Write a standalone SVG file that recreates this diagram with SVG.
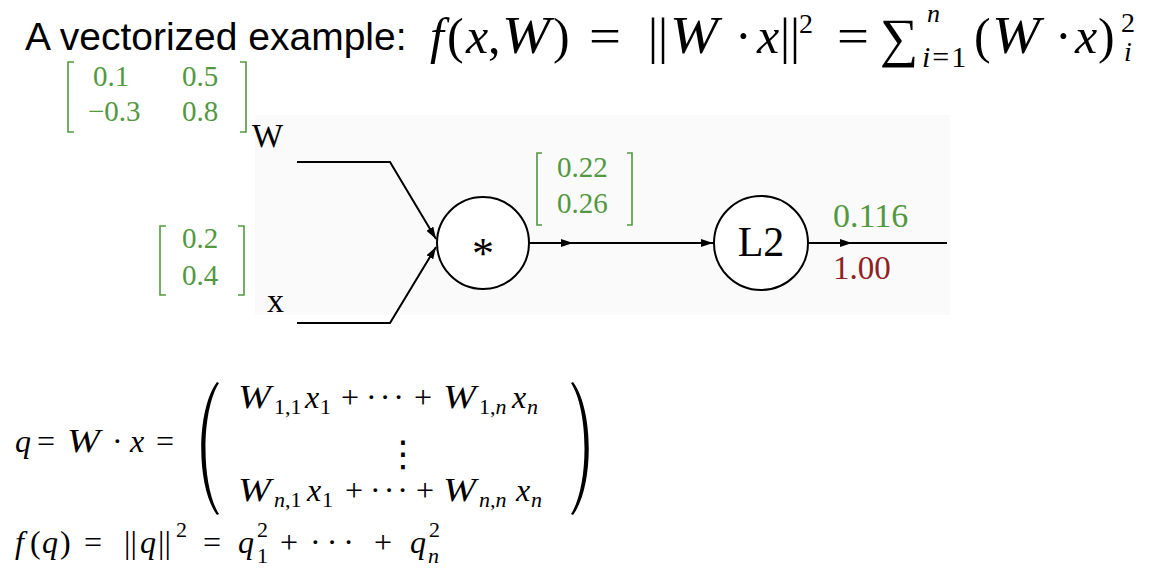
<svg xmlns="http://www.w3.org/2000/svg" width="1160" height="570" viewBox="0 0 1160 570">
<style>
.title{font-family:"Liberation Sans",Arial,sans-serif;font-size:39px;fill:#000}
.m{font-family:"Liberation Serif","DejaVu Serif",serif;fill:#000}
.mi{font-style:italic}
.big{font-size:50px}
.sm{font-size:32px}
.ss{font-size:22px}
.sp{font-size:28px}
.wt{font-size:52px}
.wb{font-size:34px}
.g{fill:#52983f;font-family:"Liberation Serif","DejaVu Serif",serif}
.r{fill:#8e2222;font-family:"Liberation Serif","DejaVu Serif",serif}
.br{fill:none;stroke:#52983f;stroke-width:1.6}
.edge{fill:none;stroke:#000;stroke-width:2}
.node{fill:#fff;stroke:#000;stroke-width:2}
.lbl{font-family:"Liberation Serif","DejaVu Serif",serif;fill:#000}
.vd{font-family:"DejaVu Sans","Noto Sans",sans-serif;font-size:36px;fill:#000}
</style>
<defs>
<marker id="ah" markerWidth="13" markerHeight="9" refX="12" refY="4" orient="auto" markerUnits="userSpaceOnUse">
<path d="M0,0 L12,4 L0,8 Z" fill="#000"/>
</marker>
</defs>
<rect x="0" y="0" width="1160" height="570" fill="#fff"/>
<rect x="255" y="115" width="695" height="200" fill="#fafafa"/>

<g id="title">
<text class="title" x="25" y="50">A vectorized example:</text>
<g class="m big">
<text class="mi" x="430" y="53">f</text>
<text x="447" y="53">(</text>
<text class="mi" x="466" y="53">x</text>
<text x="488" y="53">,</text>
<text class="mi wt" x="502" y="53" textLength="48" lengthAdjust="spacingAndGlyphs">W</text>
<text x="553" y="53">)</text>
<text x="589" y="53" textLength="32" lengthAdjust="spacingAndGlyphs">=</text>
<text x="648" y="53">||</text>
<text class="mi wt" x="670" y="53" textLength="48" lengthAdjust="spacingAndGlyphs">W</text>
<text x="735" y="53">·</text>
<text class="mi" x="757" y="53">x</text>
<text x="780" y="53">||</text>
<text class="sp" x="799" y="33">2</text>
<text x="837" y="53" textLength="32" lengthAdjust="spacingAndGlyphs">=</text>
<text x="880" y="56" font-size="54">∑</text>
<text class="mi" x="927" y="22" font-size="26">n</text>
<text x="922" y="67" font-size="30"><tspan class="mi">i</tspan><tspan dx="2">=</tspan><tspan dx="2">1</tspan></text>
<text x="974" y="53">(</text>
<text class="mi wt" x="992" y="53" textLength="48" lengthAdjust="spacingAndGlyphs">W</text>
<text x="1055" y="53">·</text>
<text class="mi" x="1075" y="53">x</text>
<text x="1098" y="53">)</text>
<text class="sp" x="1121" y="32">2</text>
<text class="sp mi" x="1124" y="61">i</text>
</g>
</g>

<g id="W-input">
<path class="br" d="M74,62 H68 V132 H74 M240,62 H246 V132 H240"/>
<g class="g" font-size="29">
<text x="93" y="86">0.1</text>
<text x="182" y="86">0.5</text>
<text x="88" y="121">−0.3</text>
<text x="182" y="121">0.8</text>
</g>
<text class="lbl" x="252" y="147" font-size="33">W</text>
</g>

<g id="x-input">
<path class="br" d="M166,226 H160 V295 H166 M238,226 H244 V295 H238"/>
<g class="g" font-size="29">
<text x="182" y="248">0.2</text>
<text x="182" y="285">0.4</text>
</g>
<text class="lbl" x="267" y="312" font-size="34">x</text>
</g>

<g id="connectors">
<path class="edge" d="M297,162 H390 L436,239" marker-end="url(#ah)"/>
<path class="edge" d="M297,323 H390 L436,247" marker-end="url(#ah)"/>
<path class="edge" d="M529,243 H713" marker-end="url(#ah)"/>
<path class="edge" d="M529,243 H573" marker-end="url(#ah)"/>
<path class="edge" d="M808,243 H947"/>
<path class="edge" d="M808,243 H852" marker-end="url(#ah)"/>
</g>

<g id="mul">
<circle class="node" cx="483" cy="243" r="46"/>
<text class="lbl" x="483" y="268" font-size="44" text-anchor="middle">*</text>
</g>

<g id="q-value">
<path class="br" d="M542,153 H537 V225 H542 M627,153 H632 V225 H627"/>
<g class="g" font-size="29">
<text x="557" y="177">0.22</text>
<text x="557" y="213">0.26</text>
</g>
</g>

<g id="L2">
<circle class="node" cx="761" cy="243" r="47"/>
<text class="lbl" x="761" y="256" font-size="42" text-anchor="middle">L2</text>
</g>

<g id="output">
<text class="g" x="833" y="227" font-size="34">0.116</text>
<text class="r" x="833" y="279" font-size="33">1.00</text>
</g>

<g id="q-def" class="m sm">
<text class="mi" x="15" y="452">q</text>
<text x="37" y="452">=</text>
<text class="mi wb" x="67" y="452" textLength="33" lengthAdjust="spacingAndGlyphs">W</text>
<text x="112" y="452">·</text>
<text class="mi" x="130" y="452">x</text>
<text x="156" y="452">=</text>
<path d="M217,382 C196,410 196,487 217,515 L219,514 C201,486 201,411 219,383 Z" fill="#000"/>
<path d="M573,382 C594,410 594,487 573,515 L571,514 C589,486 589,411 571,383 Z" fill="#000"/>
<text class="mi wb" x="238" y="408" textLength="33" lengthAdjust="spacingAndGlyphs">W</text>
<text class="ss" x="274" y="414">1,1</text>
<text class="mi" x="305" y="408">x</text>
<text class="ss" x="320" y="414">1</text>
<text x="341" y="408">+</text>
<text x="366" y="408" letter-spacing="3">···</text>
<text x="414" y="408">+</text>
<text class="mi wb" x="443" y="408" textLength="33" lengthAdjust="spacingAndGlyphs">W</text>
<text class="ss" x="479" y="414"><tspan>1,</tspan><tspan class="mi">n</tspan></text>
<text class="mi" x="512" y="408">x</text>
<text class="ss mi" x="527" y="414">n</text>
<text class="vd" x="385" y="466">⋮</text>
<text class="mi wb" x="238" y="501" textLength="33" lengthAdjust="spacingAndGlyphs">W</text>
<text class="ss" x="274" y="507"><tspan class="mi">n</tspan>,1</text>
<text class="mi" x="307" y="501">x</text>
<text class="ss" x="322" y="507">1</text>
<text x="345" y="501">+</text>
<text x="370" y="501" letter-spacing="3">···</text>
<text x="416" y="501">+</text>
<text class="mi wb" x="443" y="501" textLength="33" lengthAdjust="spacingAndGlyphs">W</text>
<text class="ss mi" x="479" y="507">n,n</text>
<text class="mi" x="516" y="501">x</text>
<text class="ss mi" x="531" y="507">n</text>
</g>

<g id="f-def" class="m sm">
<text class="mi" x="15" y="553">f</text>
<text x="30" y="553">(</text>
<text class="mi" x="42" y="553">q</text>
<text x="60" y="553">)</text>
<text x="84" y="553">=</text>
<text x="124" y="553">||</text>
<text class="mi" x="140" y="553">q</text>
<text x="158" y="553">||</text>
<text class="ss" x="176" y="537">2</text>
<text x="203" y="553">=</text>
<text class="mi" x="238" y="553">q</text>
<text class="ss" x="257" y="537">2</text>
<text class="ss" x="257" y="563">1</text>
<text x="280" y="553">+</text>
<text x="310" y="553" letter-spacing="6">···</text>
<text x="374" y="553">+</text>
<text class="mi" x="410" y="553">q</text>
<text class="ss" x="429" y="537">2</text>
<text class="ss mi" x="428" y="563">n</text>
</g>
</svg>
